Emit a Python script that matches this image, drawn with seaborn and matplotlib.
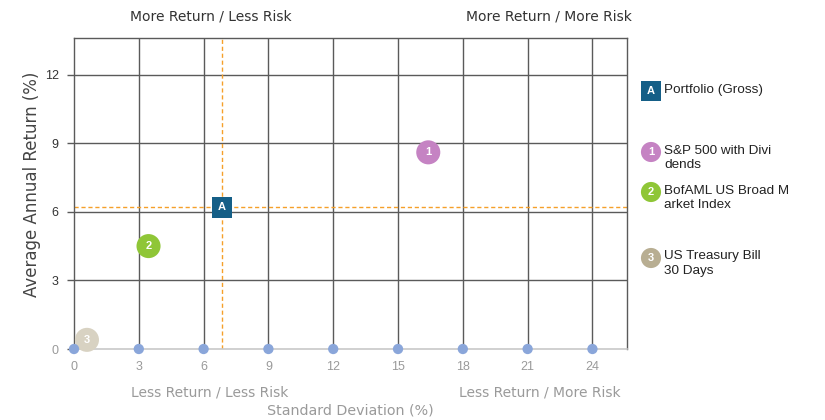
import matplotlib
matplotlib.use("Agg")
import matplotlib.pyplot as plt
import seaborn as sns
import pandas as pd

# ---- data ----
names = ["Portfolio (Gross)", "S&P 500 with Dividends",
         "BofAML US Broad Market Index", "US Treasury Bill 30 Days"]
legend_labels = ["Portfolio (Gross)", "S&P 500 with Divi\ndends",
                 "BofAML US Broad M\narket Index", "US Treasury Bill\n30 Days"]
badges = ["A", "1", "2", "3"]
std_dev = [6.85, 16.4, 3.45, 0.6]
avg_return = [6.2, 8.6, 4.5, 0.4]
x_ticks = [0, 3, 6, 9, 12, 15, 18, 21, 24]
y_ticks = [0, 3, 6, 9, 12]
ref_std = 6.85
ref_ret = 6.2

colors = {"A": "#155f87", "1": "#c583c3", "2": "#8fc637", "3": "#d8d2c2"}
legend_colors = {"A": "#155f87", "1": "#c583c3", "2": "#8fc637", "3": "#b8ae92"}

df = pd.DataFrame({"name": names, "badge": badges, "std": std_dev, "ret": avg_return})

sns.set_style("white")
plt.rcParams["font.family"] = ["Liberation Sans", "DejaVu Sans"]
WIDE = ["DejaVu Sans"]

fig = plt.figure(figsize=(8.25, 4.2), dpi=100)
ax = fig.add_axes([74/825, 1-349/420, (627-74)/825, (349-38)/420])
ax.set_xlim(0, 25.6)
ax.set_ylim(0, 13.6)

# grid
for xv in x_ticks[1:]:
    ax.axvline(xv, color="#5a5a5a", lw=1, zorder=1)
for yv in y_ticks[1:]:
    ax.axhline(yv, color="#5a5a5a", lw=1, zorder=1)

# reference lines
ax.axvline(ref_std, color="#f5a02a", lw=1, ls=(0, (3, 2)), zorder=2)
ax.axhline(ref_ret, color="#f5a02a", lw=1, ls=(0, (3, 2)), zorder=2)

# points
sub_sq = df[df.badge == "A"]
sub_c = df[df.badge != "A"]
sns.scatterplot(data=sub_c, x="std", y="ret", hue="badge", palette=colors,
                s=300, marker="o", edgecolor="none", legend=False, ax=ax, zorder=5, clip_on=False)
sns.scatterplot(data=sub_sq, x="std", y="ret", hue="badge", palette=colors,
                s=220, marker="s", edgecolor="none", legend=False, ax=ax, zorder=6, clip_on=False)
for b, xv, yv in zip(badges, std_dev, avg_return):
    ax.text(xv, yv, b, color="white", ha="center", va="center",
            fontsize=8, fontweight="bold", zorder=7)

# x-axis tick dots
sns.scatterplot(x=x_ticks, y=[0]*len(x_ticks), color="#8aa6da", s=55,
                edgecolor="none", ax=ax, zorder=8, clip_on=False, legend=False)

# spines
for s in ["top", "right", "left"]:
    ax.spines[s].set_color("#5a5a5a")
    ax.spines[s].set_linewidth(1)
ax.spines["bottom"].set_color("#c8c8c8")
ax.spines["bottom"].set_linewidth(1.2)

ax.set_xticks(x_ticks)
ax.set_yticks(y_ticks)
ax.set_xticklabels([str(v) for v in x_ticks], color="#9a9a9a", fontsize=9)
ax.set_yticklabels([str(v) for v in y_ticks], fontsize=9)
for lbl in ax.get_yticklabels():
    lbl.set_color("#333333")
ax.get_yticklabels()[0].set_color("#9a9a9a")
ax.tick_params(axis="x", length=0, pad=9)
ax.tick_params(axis="y", length=5, color="#5a5a5a", width=1, pad=6, left=True)
ax.set_xlabel("")
ax.set_ylabel("")
fig.text(32/825, 1-184/420, "Average Annual Return (%)", rotation=90, ha="center", va="center",
         fontsize=12, color="#444444", family=WIDE)

# quadrant labels
fig.text(211/825, 1-17/420, "More Return / Less Risk", ha="center", va="center", fontsize=10, color="#333333", family=WIDE)
fig.text(549/825, 1-17/420, "More Return / More Risk", ha="center", va="center", fontsize=10, color="#333333", family=WIDE)
fig.text(210/825, 1-392/420, "Less Return / Less Risk", ha="center", va="center", fontsize=10, color="#9a9a9a", family=WIDE)
fig.text(540/825, 1-392/420, "Less Return / More Risk", ha="center", va="center", fontsize=10, color="#9a9a9a", family=WIDE)
fig.text(350/825, 1-410/420, "Standard Deviation (%)", ha="center", va="center", fontsize=10.3, color="#9a9a9a", family=WIDE)

# legend (manual)
lax = fig.add_axes([0, 0, 1, 1], facecolor="none")
lax.set_xlim(0, 825)
lax.set_ylim(420, 0)
lax.axis("off")
leg_y = [91, 152, 192, 258]
for b, lab, yv in zip(badges, legend_labels, leg_y):
    if b == "A":
        lax.scatter([651], [yv], marker="s", s=190, color=legend_colors[b], edgecolor="none")
    else:
        lax.scatter([651], [yv], marker="o", s=210, color=legend_colors[b], edgecolor="none")
    lax.text(651, yv, b, color="white", ha="center", va="center", fontsize=8, fontweight="bold")
    lax.text(664, yv - 7.5, lab, ha="left", va="top", fontsize=9.7, color="#222222", linespacing=1.25)

fig.savefig("out.png", dpi=100)
